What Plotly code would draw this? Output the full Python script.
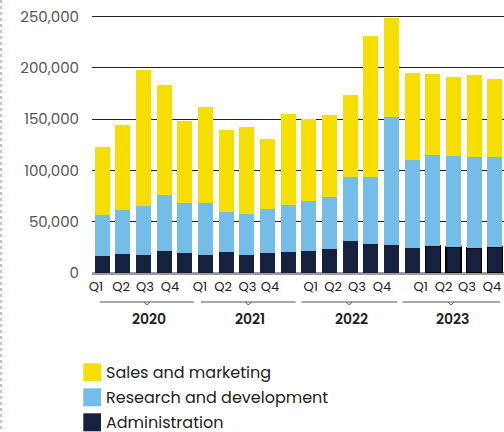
import plotly.graph_objects as go

# ---- data ----
series_names = ["Sales and marketing", "Research and development", "Administration"]
administration = [16600, 18600, 17600, 21500, 19500, 17600, 20500, 17600, 19500, 20500,
                  21500, 23400, 31300, 28300, 27300, 24400, 26400, 25400, 24400, 25400]
research_dev = [40000, 43200, 47800, 54700, 49200, 51100, 39400, 40300, 43000, 45900,
                48800, 50800, 62500, 65500, 125000, 86000, 88800, 89200, 88900, 87900]
sales_marketing = [66700, 82700, 132800, 107400, 79700, 93400, 79700, 84700, 68400, 88900,
                   80100, 80100, 80000, 137700, 96700, 84900, 79100, 76800, 80100, 76200]
quarter_labels = ["Q1", "Q2", "Q3", "Q4"] * 4
year_labels = ["2020", "2021", "2022", "2023"]
y_ticks = [0, 50000, 100000, 150000, 200000, 250000]

# ---- styles / layout positions ----
C_SALES = "#F6DE00"
C_RD = "#75BDE9"
C_ADMIN = "#15213F"
FONT = "Poppins, Inter, sans-serif"

W, H = 504, 432
L, R, T, B = 92, 0, 15, 159
PW, PH = W - L - R, H - T - B
Y_MAX = 250000 * PH / (273 - 16.7)   # so that 250,000 sits at y=16.7 px and its gridline shows
X0_PX, DX_PX = 102.0, 20.67  # first bar centre and bar pitch


def px2x(px):
    return (px - X0_PX) / DX_PX


def px2py(py):
    return (H - B - py) / PH


def px2px(px):
    return (px - L) / PW


quarter_px = [96, 121, 145, 170, 200, 223, 247.5, 270,
              310.7, 333, 357, 382, 420.7, 443.7, 467, 492]
bracket_px = [(99.7, 194), (201, 295.7), (301.3, 397.3), (402.3, 500)]

n = len(administration)
xs = list(range(n))
outline = [0] * (n - 4) + [1.4] * 4

fig = go.Figure()
fig.add_trace(go.Bar(x=xs, y=administration, name=series_names[2],
                     marker=dict(color=C_ADMIN, line=dict(color="#000000", width=outline))))
fig.add_trace(go.Bar(x=xs, y=research_dev, name=series_names[1],
                     marker=dict(color=C_RD, line=dict(width=0))))
fig.add_trace(go.Bar(x=xs, y=sales_marketing, name=series_names[0],
                     marker=dict(color=C_SALES, line=dict(width=0))))

shapes = []
annotations = []

# year brackets
for (a, b), yr in zip(bracket_px, year_labels):
    yb = px2py(302)
    c = (a + b) / 2
    shapes.append(dict(type="line", xref="paper", yref="paper",
                       x0=px2px(a), x1=px2px(b), y0=yb, y1=yb,
                       line=dict(color="#555555", width=1)))
    shapes.append(dict(type="path", xref="paper", yref="paper",
                       path=f"M {px2px(c-3)} {yb} L {px2px(c)} {px2py(305)} L {px2px(c+3)} {yb}",
                       line=dict(color="#555555", width=1)))
    annotations.append(dict(x=px2px(c + 2), y=px2py(319.5), xref="paper", yref="paper",
                            text=yr, showarrow=False, xanchor="center", yanchor="middle",
                            font=dict(family=FONT, size=14, color="#222222", weight=600)))

# legend (manual)
legend_colors = [C_SALES, C_RD, C_ADMIN]
for i, (nm, col) in enumerate(zip(series_names, legend_colors)):
    top = 363.3 + 25 * i
    shapes.append(dict(type="rect", xref="paper", yref="paper",
                       x0=px2px(83.3), x1=px2px(101), y0=px2py(top + 18), y1=px2py(top),
                       fillcolor=col, line=dict(width=0)))
    annotations.append(dict(x=px2px(104), y=px2py(top + 9.5), xref="paper", yref="paper",
                            text=nm, showarrow=False, xanchor="left", yanchor="middle",
                            font=dict(family=FONT, size=16, color="#222222")))

# dotted left border
shapes.append(dict(type="line", xref="paper", yref="paper",
                   x0=px2px(1), x1=px2px(1), y0=px2py(0), y1=px2py(432),
                   line=dict(color="#7d8ea8", width=1, dash="dot")))

fig.update_layout(
    width=W, height=H, autosize=False,
    margin=dict(l=L, r=R, t=T, b=B, pad=0),
    barmode="stack", bargap=0.274,
    plot_bgcolor="white", paper_bgcolor="white",
    showlegend=False,
    font=dict(family=FONT),
    shapes=shapes, annotations=annotations,
    xaxis=dict(range=[px2x(L), px2x(W)], tickmode="array",
               tickvals=[px2x(p) for p in quarter_px], ticktext=quarter_labels,
               showgrid=False, zeroline=False, showline=False,
               ticks="", ticklabelstandoff=4,
               tickfont=dict(family=FONT, size=13, color="#222222")),
    yaxis=dict(range=[0, Y_MAX], tickmode="array", tickvals=y_ticks,
               ticktext=[f"{v:,}" for v in y_ticks],
               showgrid=True, gridcolor="#222222", gridwidth=1,
               zeroline=True, zerolinecolor="#9a9a9a", zerolinewidth=3,
               ticks="", ticklabelstandoff=12,
               tickfont=dict(family=FONT, size=15, color="#555555")),
)

fig.write_html("out.html", config={"displayModeBar": False},
               post_script="document.body.style.margin='0';document.body.style.padding='0';")
